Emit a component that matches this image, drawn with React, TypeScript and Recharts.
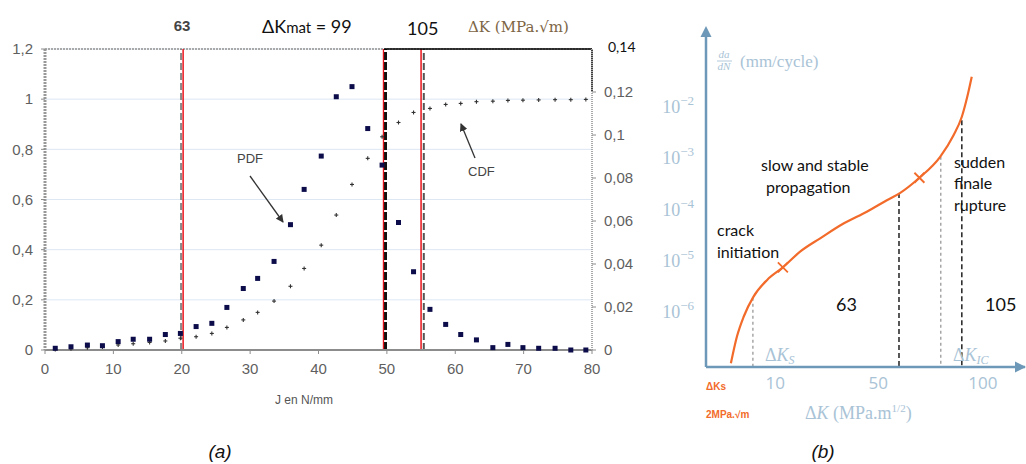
import React from "react";
import {
  ComposedChart,
  Scatter,
  Line,
  XAxis,
  YAxis,
  CartesianGrid,
  ReferenceLine,
} from "recharts";

// (a) distribution of the toughness J
const J_VALUES = [
  1.5, 3.8, 6.2, 8.4, 10.7, 12.9, 15.3, 17.6, 19.8, 22.1, 24.4, 26.6, 29.0,
  31.1, 33.5, 35.9, 37.9, 40.4, 42.6, 44.9, 47.2, 49.3, 51.7, 53.9, 56.3, 58.6,
  60.8, 63.1, 65.5, 67.7, 69.9, 72.2, 74.6, 76.9, 79.1,
];
// PDF is read on the right axis
const PDF_VALUES = [
  0.0008, 0.0015, 0.0023, 0.002, 0.0039, 0.005, 0.005, 0.0072, 0.0077, 0.0109,
  0.0124, 0.0198, 0.0286, 0.0333, 0.0412, 0.0583, 0.0747, 0.0902, 0.1178,
  0.1225, 0.103, 0.086, 0.0593, 0.0364, 0.0189, 0.0119, 0.0072, 0.0047, 0.0011,
  0.0026, 0.0011, 0.0008, 0.0008, 0.0, 0.0,
];
// CDF is read on the left axis
const CDF_VALUES = [
  0.002, 0.005, 0.009, 0.012, 0.02, 0.025, 0.03, 0.036, 0.047, 0.053, 0.066,
  0.09, 0.12, 0.15, 0.195, 0.254, 0.325, 0.418, 0.538, 0.66, 0.764, 0.85,
  0.907, 0.947, 0.963, 0.979, 0.983, 0.99, 0.992, 0.995, 0.996, 0.997, 0.998,
  0.998, 0.999,
];
const J_TICKS = [0, 10, 20, 30, 40, 50, 60, 70, 80];
const LEFT_TICKS = [0, 0.2, 0.4, 0.6, 0.8, 1, 1.2];
const RIGHT_TICKS = [0, 0.02, 0.04, 0.06, 0.08, 0.1, 0.12];

// (b) schematic crack growth curve, x = position along the ΔK axis (0-100)
const CURVE_X = [
  7.8, 9.7, 11.8, 14.9, 19.1, 24.1, 29.5, 35.8, 43.1, 50.4, 56.7, 60.9, 66.9,
  73.4, 77.6, 80.2, 81.9, 83.3,
];
const CURVE_RATE = [
  1.05e-7, 3.5e-7, 8.5e-7, 2.1e-6, 4.4e-6, 7.8e-6, 1.58e-5, 2.88e-5, 5.6e-5,
  9.5e-5, 1.59e-4, 2.22e-4, 4.37e-4, 1.12e-3, 2.96e-3, 6.76e-3, 1.66e-2,
  4.07e-2,
];
const CROSS_X = [24.1, 66.9];
const CROSS_RATE = [7.8e-6, 4.37e-4];
const B_TICK_POS = [21.7, 54.0, 86.8];
const B_TICK_LABELS = ["10", "50", "100"];
const RATE_TICKS = [1e-6, 1e-5, 1e-4, 1e-3, 1e-2];

const pdfData = J_VALUES.map((j, i) => ({ j, pdf: PDF_VALUES[i] }));
const cdfData = J_VALUES.map((j, i) => ({ j, cdf: CDF_VALUES[i] }));
const curveData = CURVE_X.map((x, i) => ({ x, r: CURVE_RATE[i] }));
const crossData = CROSS_X.map((x, i) => ({ x, r: CROSS_RATE[i] }));

const GREY_TXT = "#5f5f5f";
const PALE = "#a9c3d6";
const AXIS_B = "#6e98b7";
const ORANGE = "#f26b2a";
const CALIBRI = "Lato, 'Open Sans', sans-serif";

const comma = (v: number) => String(v).replace(".", ",");

const Square = (p: any) => (
  <rect x={p.cx - 2.5} y={p.cy - 2.5} width={5} height={5} fill="#0c0c4a" />
);

const Plus = (p: any) => (
  <g stroke="#333" strokeWidth={1.1}>
    <line x1={p.cx - 2} x2={p.cx + 2} y1={p.cy} y2={p.cy} />
    <line x1={p.cx} x2={p.cx} y1={p.cy - 2} y2={p.cy + 2} />
  </g>
);

const Cross = (p: any) => (
  <g stroke={ORANGE} strokeWidth={1.8}>
    <line x1={p.cx - 5} x2={p.cx + 5} y1={p.cy - 5} y2={p.cy + 5} />
    <line x1={p.cx - 5} x2={p.cx + 5} y1={p.cy + 5} y2={p.cy - 5} />
  </g>
);

const RateTick = ({ x, y, payload }: any) => {
  const e = Math.round(Math.log10(payload.value));
  return (
    <text
      x={x - 2}
      y={y + 5}
      textAnchor="end"
      fill={PALE}
      fontFamily="'Liberation Serif', serif"
      fontSize={18}
    >
      10
      <tspan dy={-8} fontSize={13}>
        {"\u2212" + -e}
      </tspan>
    </text>
  );
};

function PanelA() {
  return (
    <ComposedChart
      width={660}
      height={420}
      margin={{ top: 49, right: 28, bottom: 40, left: 0 }}
      style={{ position: "absolute", left: 0, top: 0 }}
    >
      <CartesianGrid
        yAxisId="l"
        vertical={false}
        stroke="#dde7f3"
        strokeWidth={1}
      />
      <XAxis
        type="number"
        dataKey="j"
        domain={[0, 80]}
        ticks={J_TICKS}
        height={30}
        tickSize={4}
        tickMargin={9}
        axisLine={{ stroke: "#8c8c8c", strokeWidth: 2 }}
        tickLine={{ stroke: "#8c8c8c" }}
        tick={{ fill: GREY_TXT, fontSize: 15, fontFamily: "'Liberation Sans', Arial" }}
      />
      <YAxis
        yAxisId="l"
        type="number"
        domain={[0, 1.2]}
        ticks={LEFT_TICKS}
        width={45}
        tickSize={4}
        tickMargin={8}
        tickFormatter={comma}
        axisLine={{ stroke: "#999", strokeWidth: 3, strokeDasharray: "2 1" }}
        tickLine={{ stroke: "#8c8c8c" }}
        tick={{ fill: GREY_TXT, fontSize: 15, fontFamily: "'Liberation Sans', Arial" }}
      />
      <YAxis
        yAxisId="r"
        orientation="right"
        type="number"
        domain={[0, 0.14]}
        ticks={RIGHT_TICKS}
        width={40}
        tickSize={4}
        tickMargin={8}
        tickFormatter={comma}
        axisLine={{ stroke: "#aaa", strokeWidth: 2, strokeDasharray: "1 1" }}
        tickLine={{ stroke: "#8c8c8c" }}
        tick={{ fill: GREY_TXT, fontSize: 15, fontFamily: "'Liberation Sans', Arial" }}
      />
      <ReferenceLine yAxisId="l" y={1.2} stroke="#aaa" strokeWidth={2} strokeDasharray="2 1" />
      <ReferenceLine yAxisId="l" x={19.9} stroke="#8a8a8a" strokeWidth={2} strokeDasharray="7 3" />
      <ReferenceLine yAxisId="l" x={20.2} stroke="#e8141b" strokeWidth={1.5} />
      <ReferenceLine yAxisId="l" x={49.8} stroke="#111" strokeWidth={3} strokeDasharray="8 2" />
      <ReferenceLine yAxisId="l" x={49.5} stroke="#e8141b" strokeWidth={1.3} />
      <ReferenceLine yAxisId="l" x={55.0} stroke="#e8141b" strokeWidth={1.5} />
      <ReferenceLine yAxisId="l" x={55.4} stroke="#555" strokeWidth={2} strokeDasharray="7 3" />
      <ReferenceLine
        yAxisId="l"
        segment={[{ x: 49.6, y: 1.2 }, { x: 80, y: 1.2 }]}
        stroke="#000"
        strokeWidth={1.5}
      />
      <ReferenceLine
        yAxisId="l"
        segment={[{ x: 80, y: 1.2 }, { x: 80, y: 1.03 }]}
        stroke="#000"
        strokeWidth={1.5}
      />
      <ReferenceLine
        yAxisId="l"
        segment={[{ x: 49.6, y: 0 }, { x: 80, y: 0 }]}
        stroke="#000"
        strokeWidth={1.5}
      />
      <Scatter yAxisId="l" data={cdfData} dataKey="cdf" shape={Plus} isAnimationActive={false} />
      <Scatter yAxisId="r" data={pdfData} dataKey="pdf" shape={Square} isAnimationActive={false} />
    </ComposedChart>
  );
}

function PanelB() {
  return (
    <ComposedChart
      width={366}
      height={464}
      data={curveData}
      margin={{ top: 30, right: 1, bottom: 67, left: 0 }}
      style={{ position: "absolute", left: 660, top: 0 }}
    >
      <XAxis
        type="number"
        dataKey="x"
        domain={[0, 100]}
        ticks={B_TICK_POS}
        tickFormatter={(v: number) => B_TICK_LABELS[B_TICK_POS.indexOf(v)]}
        height={30}
        tickLine={false}
        tickSize={0}
        tickMargin={10}
        axisLine={{ stroke: AXIS_B, strokeWidth: 2.5 }}
        tick={{ fill: PALE, fontSize: 17, fontFamily: "'Open Sans', sans-serif" }}
      />
      <YAxis
        type="number"
        scale="log"
        domain={[8.9e-8, 0.333]}
        allowDataOverflow
        ticks={RATE_TICKS}
        width={46}
        tickLine={false}
        tickSize={0}
        tickMargin={10}
        axisLine={{ stroke: AXIS_B, strokeWidth: 2.5 }}
        tick={<RateTick />}
      />
      <ReferenceLine
        segment={[{ x: 14.7, y: 2.0e-6 }, { x: 14.7, y: 8.9e-8 }]}
        stroke="#999"
        strokeWidth={1.3}
        strokeDasharray="3 3"
      />
      <ReferenceLine
        segment={[{ x: 60.5, y: 2.2e-4 }, { x: 60.5, y: 8.9e-8 }]}
        stroke="#111"
        strokeWidth={1.4}
        strokeDasharray="5 3"
      />
      <ReferenceLine
        segment={[{ x: 73.6, y: 1.12e-3 }, { x: 73.6, y: 8.9e-8 }]}
        stroke="#999"
        strokeWidth={1.3}
        strokeDasharray="3 3"
      />
      <ReferenceLine
        segment={[{ x: 80.2, y: 5.8e-3 }, { x: 80.2, y: 8.9e-8 }]}
        stroke="#111"
        strokeWidth={1.4}
        strokeDasharray="5 3"
      />
      <Line
        dataKey="r"
        type="monotone"
        stroke={ORANGE}
        strokeWidth={2.2}
        dot={false}
        isAnimationActive={false}
      />
      <Scatter data={crossData} dataKey="r" shape={Cross} isAnimationActive={false} />
    </ComposedChart>
  );
}

function Overlay() {
  const calibri = { fontFamily: CALIBRI, fill: "#111" } as const;
  return (
    <svg
      width={1026}
      height={464}
      style={{ position: "absolute", left: 0, top: 0, pointerEvents: "none" }}
    >
      <defs>
        <marker id="ah" markerWidth="8" markerHeight="8" refX="7" refY="4" orient="auto" markerUnits="userSpaceOnUse">
          <path d="M0,0 L8,4 L0,8 z" fill="#333" />
        </marker>
      </defs>
      {/* panel (a) annotations */}
      <text x={182} y={31} textAnchor="middle" fontFamily="'Liberation Sans', Arial" fontWeight="bold" fontSize={15} fill="#444">
        63
      </text>
      <text x={262} y={33} {...calibri} fontSize={18}>
        ΔK<tspan fontSize={15}>mat</tspan> = 99
      </text>
      <text x={407} y={35} {...calibri} fontSize={18}>
        105
      </text>
      <text x={468} y={32} fontFamily="'DejaVu Serif', serif" fontSize={15} fill="#7d6545">
        ΔK (MPa.√m)
      </text>
      <text x={608} y={52} {...calibri} fontSize={14}>
        0,14
      </text>
      <text x={237} y={163} fontFamily="'Liberation Sans', Arial" fontSize={13} fill="#444">
        PDF
      </text>
      <line x1={250} y1={176} x2={283} y2={222} stroke="#333" strokeWidth={1.3} markerEnd="url(#ah)" />
      <text x={468} y={176} fontFamily="'Liberation Sans', Arial" fontSize={13} fill="#444">
        CDF
      </text>
      <line x1={475} y1={158} x2={461} y2={124} stroke="#333" strokeWidth={1.3} markerEnd="url(#ah)" />
      <text x={275} y={404} fontFamily="'Liberation Sans', Arial" fontSize={12} fill="#555">
        J en N/mm
      </text>
      <text x={220} y={458} textAnchor="middle" fontFamily="'Liberation Sans', Arial" fontStyle="italic" fontSize={19} fill="#111">
        (a)
      </text>
      {/* panel (b) annotations */}
      <path d="M706,26 L700.5,37 L711.5,37 z" fill={AXIS_B} />
      <path d="M1026,367 L1015,361.5 L1015,372.5 z" fill={AXIS_B} />
      <text x={724} y={58} textAnchor="middle" fontFamily="'Liberation Serif', serif" fontStyle="italic" fontSize={11} fill={PALE}>
        da
      </text>
      <line x1={717} x2={732} y1={61} y2={61} stroke={PALE} strokeWidth={0.9} />
      <text x={724} y={70} textAnchor="middle" fontFamily="'Liberation Serif', serif" fontStyle="italic" fontSize={11} fill={PALE}>
        dN
      </text>
      <text x={740} y={67} fontFamily="'Liberation Serif', serif" fontSize={17} fill={PALE}>
        (mm/cycle)
      </text>
      <text x={761} y={171} {...calibri} fontSize={16}>slow and stable</text>
      <text x={766} y={193} {...calibri} fontSize={16}>propagation</text>
      <text x={954} y={168} {...calibri} fontSize={16}>sudden</text>
      <text x={954} y={189} {...calibri} fontSize={16}>finale</text>
      <text x={954} y={211} {...calibri} fontSize={16}>rupture</text>
      <text x={717} y={236} {...calibri} fontSize={16}>crack</text>
      <text x={717} y={258} {...calibri} fontSize={16}>initiation</text>
      <text x={836} y={311} {...calibri} fontSize={18}>63</text>
      <text x={985} y={311} {...calibri} fontSize={18}>105</text>
      <text x={765} y={361} fontFamily="'Liberation Serif', serif" fontSize={18} fill={PALE}>
        Δ<tspan fontStyle="italic">K</tspan>
        <tspan fontStyle="italic" fontSize={12} dy={3}>S</tspan>
      </text>
      <text x={953} y={361} fontFamily="'Liberation Serif', serif" fontSize={18} fill={PALE}>
        Δ<tspan fontStyle="italic">K</tspan>
        <tspan fontStyle="italic" fontSize={12} dy={3}>IC</tspan>
      </text>
      <text x={706} y={390} fontFamily="'Liberation Sans', Arial" fontWeight="bold" fontSize={10} fill={ORANGE}>
        ΔKs
      </text>
      <text x={706} y={418} fontFamily="'Liberation Sans', Arial" fontWeight="bold" fontSize={10} fill={ORANGE}>
        2MPa.√m
      </text>
      <text x={805} y={419} fontFamily="'Liberation Serif', serif" fontSize={18} fill={PALE}>
        Δ<tspan fontStyle="italic">K</tspan> (MPa.m
        <tspan fontSize={11} dy={-7}>1/2</tspan>
        <tspan dy={7}>)</tspan>
      </text>
      <text x={823} y={458} textAnchor="middle" fontFamily="'Liberation Sans', Arial" fontStyle="italic" fontSize={19} fill="#111">
        (b)
      </text>
    </svg>
  );
}

export default function App() {
  return (
    <div
      style={{
        position: "absolute",
        left: 0,
        top: 0,
        width: 1026,
        height: 464,
        background: "#fff",
        overflow: "hidden",
      }}
    >
      <PanelA />
      <PanelB />
      <Overlay />
    </div>
  );
}
